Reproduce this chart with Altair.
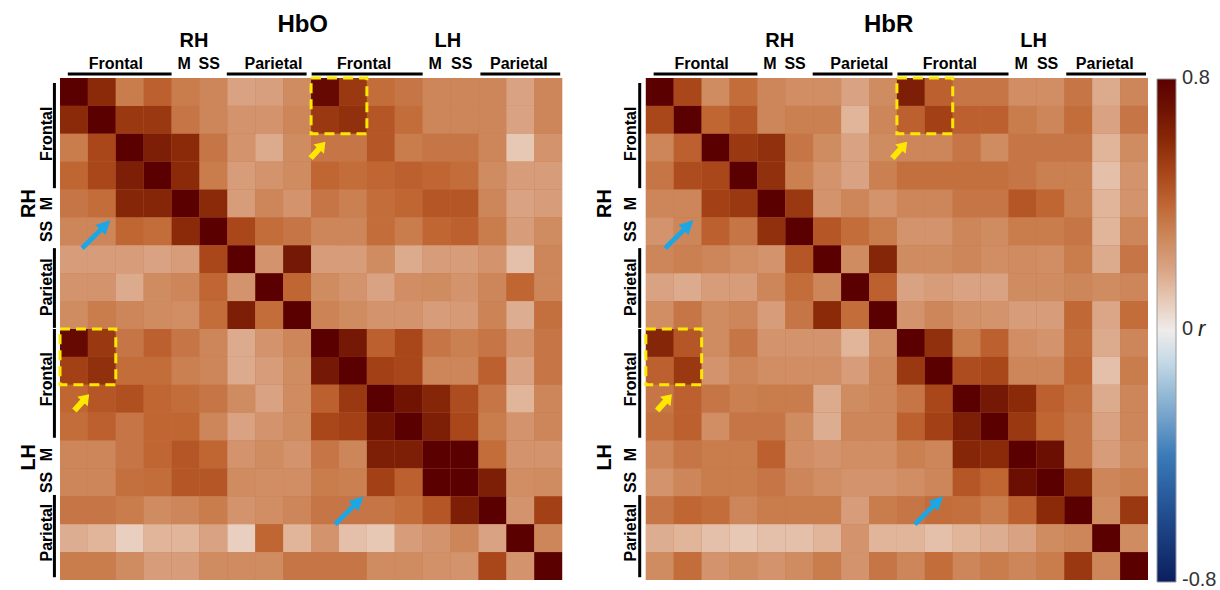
import altair as alt
import pandas as pd

# ---------------- data ----------------
hbo = [
    [1.0, .60, .33, .42, .33, .30, .20, .21, .28, .75, .55, .38, .35, .30, .30, .30, .20, .30],
    [.60, 1.0, .55, .55, .35, .30, .25, .25, .30, .55, .58, .45, .38, .30, .30, .30, .20, .30],
    [.33, .50, 1.0, .65, .60, .35, .25, .18, .28, .35, .35, .45, .33, .35, .35, .30, .10, .25],
    [.40, .50, .65, 1.0, .60, .33, .22, .25, .28, .40, .38, .40, .42, .40, .38, .28, .22, .22],
    [.35, .38, .62, .62, 1.0, .60, .22, .30, .25, .35, .32, .38, .40, .45, .45, .30, .20, .22],
    [.30, .30, .40, .38, .60, 1.0, .50, .38, .35, .30, .30, .38, .33, .40, .42, .33, .22, .28],
    [.22, .22, .22, .20, .22, .50, 1.0, .25, .68, .22, .22, .28, .18, .22, .22, .25, .12, .30],
    [.25, .25, .18, .28, .30, .40, .25, 1.0, .40, .28, .25, .20, .27, .28, .25, .30, .40, .30],
    [.28, .33, .30, .28, .27, .38, .65, .38, 1.0, .31, .28, .25, .25, .22, .23, .31, .17, .37],
    [.75, .55, .35, .42, .35, .30, .18, .25, .30, 1.0, .68, .42, .50, .35, .32, .35, .25, .35],
    [.52, .58, .38, .38, .32, .30, .18, .22, .28, .68, 1.0, .52, .50, .30, .30, .42, .20, .35],
    [.40, .45, .47, .40, .38, .35, .28, .20, .28, .42, .55, 1.0, .70, .62, .48, .35, .15, .30],
    [.38, .42, .35, .40, .40, .30, .20, .25, .28, .50, .52, .70, 1.0, .65, .50, .33, .25, .30],
    [.30, .30, .35, .40, .45, .40, .25, .28, .25, .35, .30, .65, .65, 1.0, .85, .38, .25, .25],
    [.30, .30, .37, .38, .45, .45, .28, .27, .27, .33, .32, .52, .42, .85, 1.0, .65, .27, .28],
    [.35, .35, .33, .28, .30, .33, .25, .27, .30, .35, .35, .35, .38, .45, .65, 1.0, .25, .52],
    [.17, .15, .08, .15, .15, .20, .08, .40, .15, .25, .12, .10, .22, .25, .30, .20, 1.0, .30],
    [.33, .33, .28, .22, .22, .28, .28, .28, .35, .35, .35, .28, .28, .26, .25, .50, .25, 1.0],
]

hbr = [
    [1.0, .50, .28, .38, .30, .27, .27, .20, .28, .65, .42, .35, .35, .27, .27, .35, .18, .30],
    [.50, 1.0, .40, .45, .30, .32, .32, .15, .30, .42, .52, .42, .42, .33, .30, .38, .20, .35],
    [.30, .42, 1.0, .55, .58, .35, .28, .20, .28, .30, .30, .35, .28, .35, .35, .35, .15, .28],
    [.35, .48, .50, 1.0, .58, .32, .25, .20, .32, .37, .37, .37, .37, .35, .32, .32, .12, .25],
    [.30, .30, .52, .55, 1.0, .55, .25, .30, .25, .30, .30, .35, .35, .45, .40, .32, .15, .25],
    [.25, .30, .42, .35, .58, 1.0, .45, .38, .33, .25, .25, .30, .28, .33, .33, .35, .15, .30],
    [.30, .32, .30, .27, .25, .45, 1.0, .28, .62, .28, .28, .30, .27, .28, .27, .33, .18, .35],
    [.20, .18, .22, .22, .30, .38, .30, 1.0, .42, .20, .22, .20, .20, .28, .28, .30, .28, .30],
    [.27, .35, .28, .30, .22, .35, .60, .38, 1.0, .25, .30, .26, .25, .22, .22, .39, .19, .38],
    [.62, .45, .28, .35, .25, .25, .25, .15, .27, 1.0, .58, .33, .42, .27, .25, .38, .18, .30],
    [.42, .55, .25, .30, .27, .27, .27, .22, .30, .55, 1.0, .48, .50, .30, .30, .40, .12, .33],
    [.35, .42, .35, .32, .33, .33, .18, .28, .30, .35, .50, 1.0, .68, .60, .42, .37, .18, .30],
    [.37, .42, .27, .35, .35, .28, .17, .30, .30, .42, .52, .65, 1.0, .55, .40, .35, .20, .30],
    [.30, .35, .33, .33, .42, .27, .25, .27, .27, .32, .30, .62, .60, 1.0, .72, .35, .22, .28],
    [.25, .30, .33, .33, .35, .30, .27, .25, .25, .27, .30, .45, .40, .72, 1.0, .60, .30, .32],
    [.35, .40, .38, .30, .33, .33, .33, .22, .33, .35, .38, .37, .33, .42, .60, 1.0, .28, .55],
    [.17, .15, .12, .10, .12, .12, .15, .25, .15, .15, .12, .15, .17, .20, .28, .30, 1.0, .28],
    [.28, .38, .25, .28, .25, .28, .33, .25, .35, .30, .38, .30, .33, .30, .33, .55, .30, 1.0],
]

panel_names = ["HbO", "HbR"]
panel_offsets = [0, 21]          # column offset of each panel in cell units
n_cells = 18

# colour map (r value stops -> colours)
color_stops = [-0.8, -0.4, -0.1, 0.0, 0.1, 0.2, 0.3, 0.4, 0.5, 0.6, 0.7, 0.8]
color_list = ["#0b1e5e", "#3a7ab8", "#c4d9e6", "#efecea", "#e6c8b4", "#d9a282",
              "#cd8659", "#bf6633", "#a9461a", "#8b2a08", "#701303", "#5a0000"]
legend_values = [-0.8, 0.0, 0.8]
backing_color = "#c57548"   # fill behind the cells (hides hairline seams)

# top labels: text, column position, row position (negative = above grid), font size
top_text = ["RH", "LH", "Frontal", "M", "SS", "Parietal", "Frontal", "M", "SS", "Parietal"]
top_x = [4.8, 13.9, 2.0, 4.45, 5.35, 7.65, 10.9, 13.45, 14.4, 16.45]
top_y = [-1.32, -1.32, -0.5, -0.5, -0.5, -0.5, -0.5, -0.5, -0.5, -0.5]
top_size = [20, 20, 16, 16, 16, 16, 16, 16, 16, 16]
title_x = 8.7
title_y = -1.9

# side labels (rotated): text, row position, font size, kind (0 = hemisphere, 1 = region)
side_text = ["RH", "Frontal", "M", "SS", "Parietal", "LH", "Frontal", "M", "SS", "Parietal"]
side_y = [4.5, 2.0, 4.5, 5.5, 7.5, 13.6, 10.8, 13.5, 14.5, 16.3]
side_size = [20, 16, 16, 16, 16, 20, 16, 16, 16, 16]
side_kind = [0, 1, 1, 1, 1, 0, 1, 1, 1, 1]
side_x_by_kind = {"HbO": [-1.12, -0.47], "HbR": [-1.45, -0.55]}
side_bar_x = {"HbO": -0.2, "HbR": -0.22}

# group bars
top_bar_start = [0.28, 5.98, 9.02, 15.07]
top_bar_end = [4.0, 8.84, 13.0, 17.93]
top_bar_y = -0.14
side_bar_start = [0.18, 6.1, 9.0, 14.95]
side_bar_end = [3.95, 8.96, 12.9, 17.9]

# highlighted blocks (dashed boxes): col0, col1, row0, row1
box_c0 = [9, 0]
box_c1 = [11, 2]
box_r0 = [0, 9]
box_r1 = [2, 11]

# arrows: centre positions per panel (col, row)
blue_arrow_x = {"HbO": [1.3, 10.37], "HbR": [1.2, 10.15]}
blue_arrow_y = [5.6, 15.5]
yellow_arrow_x = {"HbO": [9.25, 0.78], "HbR": [9.1, 0.67]}
yellow_arrow_y = [2.58, 11.63]

# ---------------- build tables ----------------
cells = []
for name, off, mat in zip(panel_names, panel_offsets, [hbo, hbr]):
    for i, row in enumerate(mat):
        for j, v in enumerate(row):
            cells.append(dict(panel=name, x0=off + j, x1=off + j + 1, y0=i, y1=i + 1, r=v))
cells_df = pd.DataFrame(cells)

panels_df = pd.DataFrame({"x0": panel_offsets,
                          "x1": [o + n_cells for o in panel_offsets],
                          "y0": [0, 0], "y1": [n_cells, n_cells]})

tops, sides, tbars, sbars, boxes, blues, yellows, titles = [], [], [], [], [], [], [], []
for name, off in zip(panel_names, panel_offsets):
    titles.append(dict(text=name, x=off + title_x, y=title_y))
    for t, x, y, s in zip(top_text, top_x, top_y, top_size):
        tops.append(dict(text=t, x=off + x, y=y, fs=s))
    for t, y, s, k in zip(side_text, side_y, side_size, side_kind):
        sides.append(dict(text=t, x=off + side_x_by_kind[name][k], y=y, fs=s))
    for a, b in zip(top_bar_start, top_bar_end):
        tbars.append(dict(x=off + a, x2=off + b, y=top_bar_y))
    for a, b in zip(side_bar_start, side_bar_end):
        sbars.append(dict(x=off + side_bar_x[name], y=a, y2=b))
    for c0, c1, r0, r1 in zip(box_c0, box_c1, box_r0, box_r1):
        boxes.append(dict(x=off + c0, x2=off + c1, y=r0, y2=r1))
    for x, y in zip(blue_arrow_x[name], blue_arrow_y):
        blues.append(dict(x=off + x, y=y))
    for x, y in zip(yellow_arrow_x[name], yellow_arrow_y):
        yellows.append(dict(x=off + x, y=y))

xs = alt.Scale(domain=[0, 39], nice=False, zero=False)
ys = alt.Scale(domain=[0, n_cells], nice=False, zero=False, reverse=True)
FONT = "Liberation Sans"

backing = alt.Chart(panels_df).mark_rect(color=backing_color, strokeWidth=0).encode(
    x=alt.X("x0:Q", scale=xs, axis=None), x2="x1:Q",
    y=alt.Y("y0:Q", scale=ys, axis=None), y2="y1:Q")

heat = alt.Chart(cells_df).mark_rect(strokeWidth=0).encode(
    x=alt.X("x0:Q", scale=xs, axis=None),
    x2="x1:Q",
    y=alt.Y("y0:Q", scale=ys, axis=None),
    y2="y1:Q",
    color=alt.Color(
        "r:Q",
        scale=alt.Scale(domain=color_stops, range=color_list, clamp=True),
        legend=alt.Legend(
            type="gradient",
            orient="none", legendX=1097, legendY=1, direction="vertical",
            gradientLength=503, gradientThickness=19, title=None,
            values=legend_values, labelOpacity=0, labelFontSize=1,
            gradientStrokeWidth=1, gradientStrokeColor="#9a9a9a",
        ),
    ),
)

# colour-bar labels, placed along the bar from their value
lo, hi = color_stops[0], color_stops[-1]
row_expr = f"({hi} - datum.v) / ({hi} - ({lo})) * {n_cells}"
cb_labels = alt.Chart(pd.DataFrame({"v": legend_values})).transform_calculate(
    row=row_expr,
    lab="datum.v == 0 ? '0' : replace(format(datum.v, '.1f'), '\u2212', '-')",
).mark_text(
    font=FONT, fontSize=20, align="left", baseline="middle", color="#333333"
).encode(x=alt.value(1122), y=alt.Y("row:Q", scale=ys), text="lab:N")

zero_tick = alt.Chart(pd.DataFrame({"v": [0.0]})).transform_calculate(
    row=row_expr,
).mark_rule(color="#8a8a8a", strokeWidth=1).encode(
    x=alt.value(1110), x2=alt.value(1116), y=alt.Y("row:Q", scale=ys))

r_label = alt.Chart(pd.DataFrame({"v": [0.0]})).transform_calculate(
    row=row_expr,
).mark_text(
    font=FONT, fontStyle="italic", fontSize=22, align="left", baseline="middle", color="#222222"
).encode(x=alt.value(1138), y=alt.Y("row:Q", scale=ys), text=alt.value("r"))

title_layer = alt.Chart(pd.DataFrame(titles)).mark_text(
    font=FONT, fontWeight="bold", fontSize=24, baseline="middle", align="center", color="black"
).encode(x=alt.X("x:Q", scale=xs), y=alt.Y("y:Q", scale=ys), text="text:N")

top_layer = alt.Chart(pd.DataFrame(tops)).mark_text(
    font=FONT, fontWeight="bold", baseline="middle", align="center", color="black"
).encode(x=alt.X("x:Q", scale=xs), y=alt.Y("y:Q", scale=ys), text="text:N",
         size=alt.Size("fs:Q", scale=None))

side_layer = alt.Chart(pd.DataFrame(sides)).mark_text(
    font=FONT, fontWeight="bold", baseline="middle", align="center", color="black", angle=270
).encode(x=alt.X("x:Q", scale=xs), y=alt.Y("y:Q", scale=ys), text="text:N",
         size=alt.Size("fs:Q", scale=None))

tbar_layer = alt.Chart(pd.DataFrame(tbars)).mark_rule(color="black", strokeWidth=3).encode(
    x=alt.X("x:Q", scale=xs), x2="x2:Q", y=alt.Y("y:Q", scale=ys))

sbar_layer = alt.Chart(pd.DataFrame(sbars)).mark_rule(color="black", strokeWidth=3).encode(
    x=alt.X("x:Q", scale=xs), y=alt.Y("y:Q", scale=ys), y2="y2:Q")

box_layer = alt.Chart(pd.DataFrame(boxes)).mark_rect(
    fillOpacity=0, stroke="#ffe800", strokeWidth=3, strokeDash=[10, 6]
).encode(x=alt.X("x:Q", scale=xs), x2="x2:Q", y=alt.Y("y:Q", scale=ys), y2="y2:Q")

blue_path = "M0,-1L0.35,-0.3L0.12,-0.3L0.12,1L-0.12,1L-0.12,-0.3L-0.35,-0.3Z"
yellow_path = "M0,-1L0.64,-0.1L0.27,-0.1L0.27,1L-0.27,1L-0.27,-0.1L-0.64,-0.1Z"

blue_layer = alt.Chart(pd.DataFrame(blues)).mark_point(
    shape=blue_path, filled=True, size=1600, angle=45, color="#1ba6e6", opacity=1, strokeWidth=0
).encode(x=alt.X("x:Q", scale=xs), y=alt.Y("y:Q", scale=ys))

yellow_layer = alt.Chart(pd.DataFrame(yellows)).mark_point(
    shape=yellow_path, filled=True, size=484, angle=42, color="#ffe800", opacity=1, strokeWidth=0
).encode(x=alt.X("x:Q", scale=xs), y=alt.Y("y:Q", scale=ys))

chart = alt.layer(
    backing, heat, box_layer, tbar_layer, sbar_layer, title_layer, top_layer, side_layer,
    blue_layer, yellow_layer, cb_labels, zero_tick, r_label
).properties(
    width=1088, height=502,
    autosize=alt.AutoSizeParams(type="none"),
    padding={"left": 60, "top": 78, "right": 72, "bottom": 10},
    background="white",
).configure_view(strokeWidth=0)

chart.save("out.html", embed_options={"renderer": "svg", "actions": False})
